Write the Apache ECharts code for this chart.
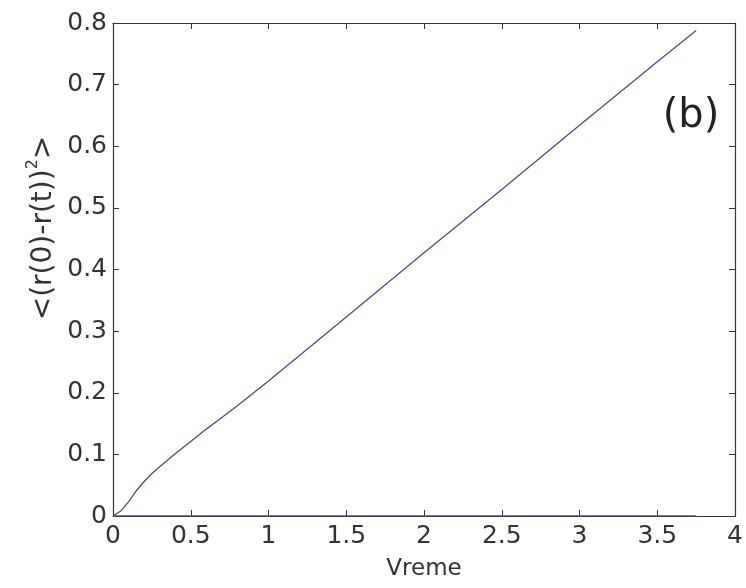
<!DOCTYPE html>
<html>
<head>
<meta charset="utf-8">
<script src="https://cdn.jsdelivr.net/npm/echarts@6/dist/echarts.min.js"></script>
<style>
  html, body { margin: 0; padding: 0; background: #fff; }
  #chart { width: 746px; height: 588px; }
</style>
</head>
<body>
<div id="chart"></div>
<script>
// time values and mean displacement
const timeValues = [0, 0.05, 0.1, 0.15, 0.2, 0.25, 0.3, 0.4, 0.5, 0.6, 0.7, 0.8, 1.0, 1.5, 2.0, 2.5, 3.0, 3.5, 3.75];
const dispValues = [0, 0.008, 0.023, 0.041, 0.056, 0.069, 0.08, 0.101, 0.121, 0.141, 0.16, 0.179, 0.219, 0.323, 0.427, 0.53, 0.634, 0.737, 0.788];
const zeroLineX = [0, 3.75];
const xTicks = [0, 0.5, 1, 1.5, 2, 2.5, 3, 3.5, 4];
const yTicks = [0, 0.1, 0.2, 0.3, 0.4, 0.5, 0.6, 0.7, 0.8];

const lineColor = '#4b4b8f';
const axisColor = '#333';
const font = 'DejaVu Sans';

const chart = echarts.init(document.getElementById('chart'));

const baseAxis = {
  axisLine: { show: true, onZero: false, lineStyle: { color: axisColor, width: 1.2 } },
  axisTick: { show: true, inside: true, length: 6, lineStyle: { color: axisColor } },
  splitLine: { show: false }
};

const option = {
  animation: false,
  backgroundColor: '#fff',
  grid: { left: 113, right: 10, top: 23, bottom: 72 },
  xAxis: [
    Object.assign({}, baseAxis, {
      type: 'value', min: 0, max: 4, interval: 0.5,
      name: 'Vreme', nameLocation: 'middle', nameGap: 42,
      nameTextStyle: { fontFamily: font, fontSize: 23, color: axisColor },
      axisLabel: {
        fontFamily: font, fontSize: 25, color: axisColor, margin: 8,
        formatter: v => xTicks.includes(v) ? String(v) : ''
      }
    }),
    Object.assign({}, baseAxis, {
      type: 'value', min: 0, max: 4, interval: 0.5, position: 'top',
      axisLabel: { show: false }
    })
  ],
  yAxis: [
    Object.assign({}, baseAxis, {
      type: 'value', min: 0, max: 0.8, interval: 0.1,
      axisLabel: {
        fontFamily: font, fontSize: 25, color: axisColor, margin: 6,
        formatter: v => yTicks.includes(+v.toFixed(1)) ? String(+v.toFixed(1)) : ''
      }
    }),
    Object.assign({}, baseAxis, {
      type: 'value', min: 0, max: 0.8, interval: 0.1, position: 'right',
      axisLabel: { show: false }
    })
  ],
  graphic: [
    {
      type: 'text', x: 44, y: 228, rotation: Math.PI / 2,
      style: {
        text: '<(r(0)-r(t)){s|2}>',
        fontFamily: font, fontSize: 28, fill: axisColor,
        align: 'center', verticalAlign: 'middle',
        rich: { s: { fontFamily: font, fontSize: 16, fill: axisColor, padding: [0, 0, 22, 0] } }
      }
    },
    {
      type: 'text', x: 691, y: 117,
      style: {
        text: '(b)', fontFamily: font, fontSize: 40, fill: '#222',
        align: 'center', verticalAlign: 'middle'
      }
    }
  ],
  series: [
    {
      type: 'line', data: timeValues.map((t, i) => [t, dispValues[i]]),
      showSymbol: false,
      lineStyle: { color: lineColor, width: 1.3 }
    },
    {
      type: 'line', data: zeroLineX.map(t => [t, 0]),
      showSymbol: false,
      lineStyle: { color: lineColor, width: 1.3 }
    }
  ]
};

chart.setOption(option);
</script>
</body>
</html>
